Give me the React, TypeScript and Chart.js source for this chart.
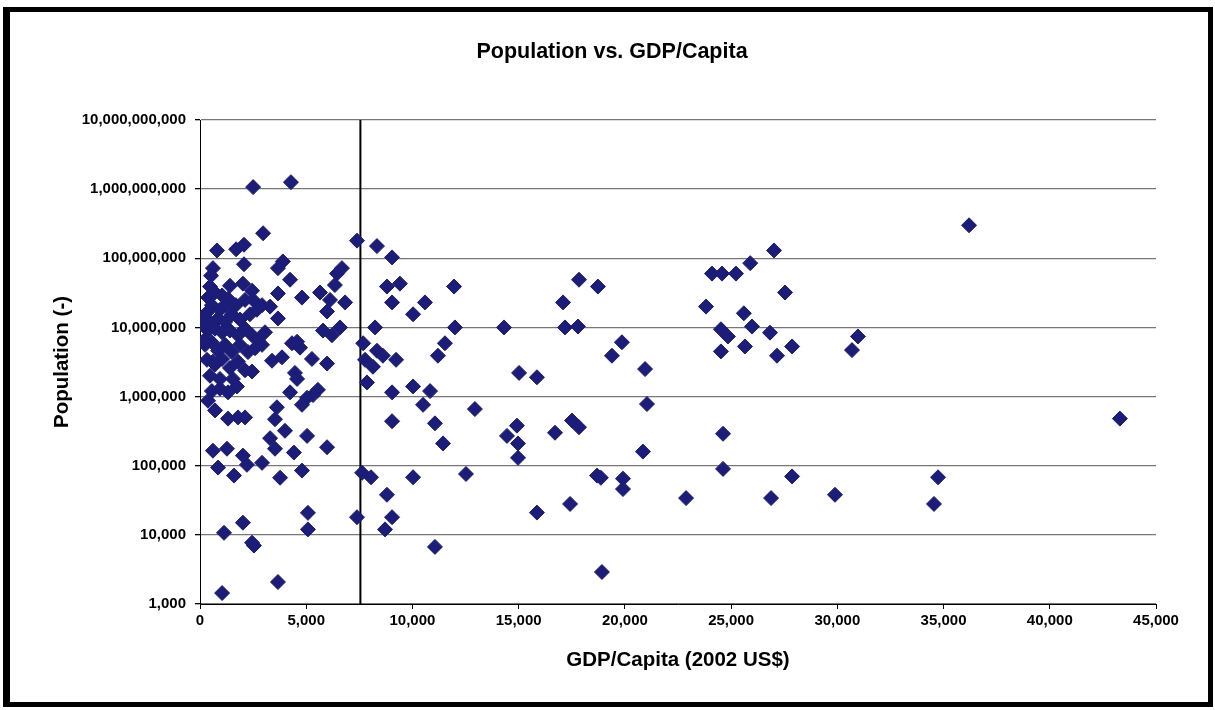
import React, { useEffect, useRef } from 'react';
import { Chart, registerables } from 'chart.js';

Chart.register(...registerables);

// GDP per capita (2002 US$) of each country
const gdpPerCapita: number[] = [
  2500, 4280, 2970, 800, 1700, 2070, 2070, 7390, 8330, 9040,
  610, 520, 3900, 3670, 4240, 6680, 6450, 6350, 3670, 4800,
  5650, 6120, 6830, 5980, 2500, 3300, 3670, 5790, 6590, 6210,
  4330, 4710, 4570, 3390, 3860, 5270, 5980, 4470, 4570, 5550,
  5320, 4240, 5040, 4800, 3620, 3530, 4000, 3300, 5040, 5980,
  1790, 1320, 2120, 710, 380, 1740, 2450, 940, 560,
  610, 1270, 2020, 2210, 850, 1600, 2920, 3530, 3770, 4420,
  4800, 7630, 8050, 5080, 7390, 2020, 1130, 5080, 2450, 2540,
  3670, 1040,
  8800, 9410, 11960, 9040, 10590, 10030, 8240, 12000, 14310, 7680,
  8330, 8610, 8140, 7770, 7860, 9230, 11530, 11200, 15020, 15860,
  9040, 10030, 10830, 10500, 12940, 9040, 11060, 14920, 14450, 14970,
  11440, 14970, 10030, 12520, 8800, 9040, 8710, 11060, 15860,
  17840, 18730, 17090, 17180, 17790, 24100, 24570, 25230, 25900, 23820,
  25600, 24520, 24850, 24520, 25650, 25980, 19860, 19390, 20950, 21040,
  17510, 17840, 16710, 24620, 20850, 18690, 18870, 19910, 19910, 24620,
  22880, 17420, 18920, 36200, 27020, 27540, 26830, 27160, 27870, 30970,
  30690, 27870, 26880, 29890, 34740, 34550, 43300,
  470, 700, 1040, 1410, 380, 1320, 1690, 2120, 560, 940,
  190, 470, 850, 1180, 1500, 1880, 2350, 2680, 2920, 380,
  710, 1040, 1410, 1790, 2120, 2450, 2730, 3060, 240, 560,
  850, 1180, 1500, 1880, 2260, 2590, 2920, 330, 710, 1040,
  1410, 1790, 2120, 470, 940, 1550, 190, 140, 330, 1220,
  2020, 2450, 610, 1320,
];

// Population of each country (same order)
const population: number[] = [
  1.07e9, 1.26e9, 2.3e8, 1.3e8, 1.35e8, 1.57e8, 8.2e7, 1.8e8, 1.5e8, 1.03e8,
  7.2e7, 5.6e7, 9.0e7, 7.2e7, 4.9e7, 7.2e7, 6.0e7, 4.1e7, 3.1e7, 2.7e7,
  3.2e7, 2.5e7, 2.3e7, 1.7e7, 2.5e7, 2.0e7, 1.35e7, 9.0e6, 1.0e7, 7.7e6,
  5.9e6, 5.1e6, 6.2e6, 3.3e6, 3.7e6, 3.5e6, 3.0e6, 2.2e6, 1.8e6, 1.25e6,
  1.05e6, 1.15e6, 9.6e5, 7.6e5, 7.0e5, 4.7e5, 3.2e5, 2.5e5, 2.7e5, 1.85e5,
  5.0e5, 4.8e5, 5.0e5, 6.3e5, 8.7e5, 1.4e6, 2.3e6, 1.3e6, 1.2e6,
  1.65e5, 1.76e5, 1.4e5, 1.03e5, 9.4e4, 7.2e4, 1.1e5, 1.76e5, 6.7e4, 1.55e5,
  8.5e4, 7.9e4, 6.8e4, 2.08e4, 1.8e4, 1.5e4, 1.07e4, 1.2e4, 7.7e3, 7.0e3,
  2.08e3, 1.44e3,
  3.9e7, 4.3e7, 3.9e7, 2.3e7, 2.3e7, 1.55e7, 1.0e7, 1.0e7, 1.0e7, 5.9e6,
  4.6e6, 3.9e6, 2.7e6, 3.4e6, 1.6e6, 3.4e6, 5.9e6, 3.9e6, 2.2e6, 1.9e6,
  1.15e6, 1.4e6, 1.2e6, 7.6e5, 6.6e5, 4.4e5, 4.1e5, 3.8e5, 2.7e5, 2.1e5,
  2.1e5, 1.3e5, 6.8e4, 7.6e4, 3.8e4, 1.8e4, 1.2e4, 6.7e3, 2.1e4,
  4.9e7, 3.9e7, 2.3e7, 1.0e7, 1.03e7, 6.0e7, 6.0e7, 6.0e7, 8.5e7, 2.0e7,
  1.6e7, 9.4e6, 7.4e6, 4.5e6, 5.3e6, 1.03e7, 6.1e6, 3.9e6, 2.5e6, 7.8e5,
  4.5e5, 3.6e5, 3.0e5, 2.9e5, 1.6e5, 7.2e4, 6.7e4, 6.5e4, 4.6e4, 9.0e4,
  3.4e4, 2.8e4, 2.9e3, 3.0e8, 1.3e8, 3.2e7, 8.4e6, 3.9e6, 5.3e6, 7.4e6,
  4.7e6, 7.0e4, 3.4e4, 3.8e4, 6.8e4, 2.8e4, 4.8e5,
  3.9e7, 3.2e7, 2.9e7, 4.0e7, 2.7e7, 2.6e7, 2.1e7, 2.5e7, 2.1e7, 1.8e7,
  1.35e7, 1.2e7, 1.35e7, 1.2e7, 1.55e7, 1.3e7, 1.55e7, 1.8e7, 2.1e7, 9.0e6,
  9.6e6, 8.5e6, 9.0e6, 7.7e6, 9.6e6, 7.7e6, 6.5e6, 8.5e6, 5.6e6, 6.1e6,
  4.6e6, 5.6e6, 4.4e6, 5.6e6, 4.4e6, 5.0e6, 5.6e6, 3.4e6, 2.9e6, 3.5e6,
  2.6e6, 3.2e6, 2.4e6, 2.0e6, 1.8e6, 1.8e6, 6.5e6, 1.07e7, 1.65e7, 2.1e7,
  4.3e7, 3.4e7, 3.2e6, 1.15e6,
];

// vertical reference line
const thresholdGdp = 7550;

const yTickValues: number[] = [1e3, 1e4, 1e5, 1e6, 1e7, 1e8, 1e9, 1e10];
const xMin = 0;
const xMax = 45000;
const xStep = 5000;

const chartTitle = 'Population vs. GDP/Capita';
const xTitle = 'GDP/Capita (2002 US$)';
const yTitle = 'Population (-)';

const NAVY = '#1b1d78';
const FONT = '"Liberation Sans", Arial, Helvetica, sans-serif';

const fmt = (v: number) => Number(v).toLocaleString('en-US');

const titlePlugin = {
  id: 'mainTitle',
  afterDraw(chart: any) {
    const ctx = chart.ctx;
    ctx.save();
    ctx.font = `bold 21.5px ${FONT}`;
    ctx.fillStyle = '#000';
    ctx.textAlign = 'center';
    ctx.textBaseline = 'middle';
    ctx.fillText(chartTitle, 612, 52);
    ctx.restore();
  },
};

export default function App() {
  const ref = useRef<HTMLCanvasElement | null>(null);

  useEffect(() => {
    if (!ref.current) return;
    const points = gdpPerCapita.map((g, i) => ({ x: g, y: population[i] }));
    const chart = new Chart(ref.current, {
      type: 'scatter',
      data: {
        datasets: [
          {
            type: 'scatter',
            data: points,
            pointStyle: 'rectRot',
            pointRadius: 7.5,
            pointHoverRadius: 7.5,
            backgroundColor: NAVY,
            borderColor: NAVY,
            borderWidth: 1,
            order: 1,
          } as any,
          {
            type: 'line',
            data: [
              { x: thresholdGdp, y: yTickValues[0] },
              { x: thresholdGdp, y: yTickValues[yTickValues.length - 1] },
            ],
            borderColor: '#000',
            borderWidth: 2,
            pointRadius: 0,
            showLine: true,
            fill: false,
            order: 2,
          } as any,
        ],
      },
      plugins: [titlePlugin],
      options: {
        animation: false,
        responsive: false,
        devicePixelRatio: 1,
        layout: { padding: { left: 40, right: 59, top: 120, bottom: 20 } },
        plugins: {
          legend: { display: false },
          tooltip: { enabled: false },
          title: { display: false },
        },
        scales: {
          x: {
            type: 'linear',
            min: xMin,
            max: xMax,
            ticks: {
              stepSize: xStep,
              callback: (v: any) => fmt(v),
              font: { family: FONT, size: 15, weight: 'bold' },
              color: '#000',
              padding: 3,
              maxRotation: 0,
            },
            grid: {
              drawOnChartArea: false,
              drawTicks: true,
              tickLength: 5,
              tickColor: '#000',
            },
            border: { display: true, color: '#000', width: 1 },
            title: {
              display: true,
              text: xTitle,
              font: { family: FONT, size: 20.5, weight: 'bold' },
              color: '#000',
              padding: { top: 0, bottom: 17.7 },
            },
            afterFit: (s: any) => {
              s.height = 86;
            },
          } as any,
          y: {
            type: 'logarithmic',
            min: yTickValues[0],
            max: yTickValues[yTickValues.length - 1],
            afterBuildTicks: (s: any) => {
              s.ticks = yTickValues.map((v) => ({ value: v }));
            },
            ticks: {
              callback: (v: any) => fmt(v),
              font: { family: FONT, size: 15, weight: 'bold' },
              color: '#000',
              padding: 9,
              autoSkip: false,
            },
            grid: {
              color: '#777',
              lineWidth: 1.3,
              drawTicks: true,
              tickLength: 5,
              tickColor: '#000',
            },
            border: { display: true, color: '#000', width: 1 },
            title: {
              display: true,
              text: yTitle,
              font: { family: FONT, size: 20.5, weight: 'bold' },
              color: '#000',
              padding: { top: 9.7, bottom: 0 },
            },
            afterFit: (s: any) => {
              s.width = 160;
            },
          } as any,
        },
      },
    });
    return () => chart.destroy();
  }, []);

  return (
    <div
      style={{
        position: 'fixed',
        left: 0,
        top: 0,
        width: 1215,
        height: 710,
        background: '#fff',
        overflow: 'hidden',
      }}
    >
      <canvas ref={ref} width={1215} height={710} style={{ display: 'block' }} />
      <div
        style={{
          position: 'absolute',
          left: 3,
          top: 7,
          width: 1210,
          height: 700,
          boxSizing: 'border-box',
          borderTop: '5px solid #000',
          borderLeft: '7px solid #000',
          borderRight: '5px solid #000',
          borderBottom: '5px solid #000',
          pointerEvents: 'none',
        }}
      />
    </div>
  );
}
